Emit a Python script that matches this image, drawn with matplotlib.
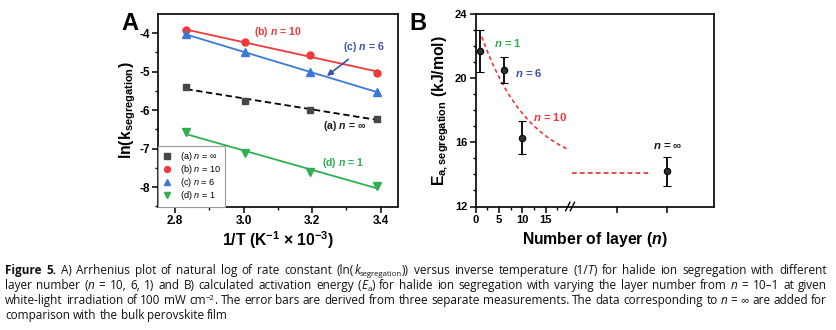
import re
import numpy as np
import matplotlib
matplotlib.use("Agg")
import matplotlib.pyplot as plt
from matplotlib.ticker import MultipleLocator, FixedLocator, FixedFormatter
import matplotlib.transforms as mtransforms

plt.rcParams['font.family'] = ['Liberation Sans', 'DejaVu Sans']
plt.rcParams['axes.unicode_minus'] = False
plt.rcParams['mathtext.fontset'] = 'custom'
plt.rcParams['mathtext.rm'] = 'Liberation Sans:bold'
plt.rcParams['mathtext.bf'] = 'Liberation Sans:bold'
plt.rcParams['mathtext.it'] = 'Liberation Sans:bold:italic'
plt.rcParams['mathtext.sf'] = 'Liberation Sans:italic'

# ---- Panel A: Arrhenius data (1/T in 10^-3 K^-1, ln k) ----
inv_T = [2.833, 3.003, 3.195, 3.390]
ln_k_inf = [-5.40, -5.76, -5.99, -6.22]
ln_k_n10 = [-3.92, -4.24, -4.57, -5.02]
ln_k_n6 = [-4.03, -4.50, -5.00, -5.53]
ln_k_n1 = [-6.56, -7.11, -7.60, -7.97]
series_labels = [r"(a) $\mathsf{n}$ = ∞", r"(b) $\mathsf{n}$ = 10",
                 r"(c) $\mathsf{n}$ = 6", r"(d) $\mathsf{n}$ = 1"]

# ---- Panel B: activation energy vs layer number ----
layers = [1, 6, 10]
ea_layers = [21.7, 20.5, 16.3]
ea_err = [1.3, 0.8, 1.0]
bulk_pos = 41
ea_bulk = 14.2
ea_bulk_err = 0.9
# guide-to-the-eye decay and bulk level
guide_base, guide_amp, guide_len = 14.1, 9.6, 10.5
guide_start, guide_end = 1.3, 19.5
bulk_line = (20.7, 37.5)

RED = '#ec3a3a'
BLUE_LINE = '#3c78d8'
BLUE_TXT = '#3b4fae'
GREEN = '#2faf4f'
GRAY = '#474747'

W, H = 836, 330
fig = plt.figure(figsize=(W / 100, H / 100), dpi=100)
fig.patch.set_facecolor('white')


def px_axes(x0, y0, x1, y1):
    return fig.add_axes([x0 / W, 1 - y1 / H, (x1 - x0) / W, (y1 - y0) / H])


def style_axes(ax, tick_size):
    for s in ax.spines.values():
        s.set_linewidth(1.2)
    ax.tick_params(which='major', direction='out', length=4, width=1.1,
                   labelsize=tick_size, top=False, right=False, pad=2)
    ax.tick_params(which='minor', direction='out', length=2.2, width=1.0,
                   top=False, right=False)
    for lab in ax.get_xticklabels() + ax.get_yticklabels():
        lab.set_fontweight('bold')


# ================= Panel A =================
axA = px_axes(158, 14, 397.7, 206.5)
xs = np.array(inv_T)
specs = [
    (ln_k_inf, 's', GRAY, 4.3, '--', 'k'),
    (ln_k_n10, 'o', RED, 5.0, '-', RED),
    (ln_k_n6, '^', BLUE_LINE, 5.3, '-', BLUE_LINE),
    (ln_k_n1, 'v', GREEN, 5.3, '-', GREEN),
]
for (ys, mk, mc, ms, ls, lc), lab in zip(specs, series_labels):
    ys = np.array(ys)
    slope, icpt = np.polyfit(xs, ys, 1)
    xf = np.array([xs[0], xs[-1]])
    line, = axA.plot(xf, slope * xf + icpt, ls, color=lc, lw=1.3, zorder=2)
    if ls == '--':
        line.set_dashes((3.5, 2))
    axA.plot(xs, ys, mk, color=mc, ms=ms, mec=mc, ls='none', label=lab, zorder=3)

axA.set_xlim(2.75, 3.45)
axA.set_ylim(-8.5, -3.5)
axA.xaxis.set_major_locator(FixedLocator([2.8, 3.0, 3.2, 3.4]))
axA.xaxis.set_minor_locator(FixedLocator([2.9, 3.1, 3.3]))
axA.yaxis.set_major_locator(FixedLocator([-8, -7, -6, -5, -4]))
axA.yaxis.set_minor_locator(FixedLocator([-8.5, -7.5, -6.5, -5.5, -4.5]))
axA.xaxis.set_major_formatter(FixedFormatter(['2.8', '3.0', '3.2', '3.4']))
axA.yaxis.set_major_formatter(FixedFormatter(['-8', '-7', '-6', '-5', '-4']))
style_axes(axA, 8.5)
axA.set_xlabel(r"1/T ($\mathrm{K}^{-1}$ × $\mathrm{10}^{-3}$)", fontsize=11.3,
               fontweight='bold', labelpad=1.5)
axA.set_ylabel(r"ln($\mathrm{k}_{\mathrm{segregation}}$)", fontsize=11.3,
               fontweight='bold', labelpad=1)

leg = axA.legend(loc='lower left', bbox_to_anchor=(0, 0), borderaxespad=0,
                 frameon=True, fancybox=False, edgecolor='#9a9a9a', framealpha=1,
                 fontsize=6.6, handlelength=1.0, handletextpad=0.9,
                 labelspacing=0.0, borderpad=0.45, markerscale=0.85)
leg.get_frame().set_linewidth(0.8)

axA.text(3.099, -3.97, r"(b) $\mathit{n}$ = 10", color=RED, fontsize=7.6,
         fontweight='bold', ha='center', va='center')
axA.annotate(r"(c) $\mathit{n}$ = 6", xy=(3.243, -5.11), xytext=(3.352, -4.36),
             color=BLUE_TXT, fontsize=7.6, fontweight='bold', ha='center', va='center',
             arrowprops=dict(arrowstyle='-|>,head_length=0.45,head_width=0.22',
                             color=BLUE_TXT, lw=1.2, shrinkA=3, shrinkB=0))
axA.text(3.296, -6.40, r"(a) $\mathit{n}$ = ∞", color='#1a1a1a', fontsize=7.6,
         fontweight='bold', ha='center', va='center')
axA.text(3.29, -7.38, r"(d) $\mathit{n}$ = 1", color=GREEN, fontsize=7.6,
         fontweight='bold', ha='center', va='center')

fig.text(130 / W, 1 - 30 / H, "A", fontsize=17, fontweight='bold', ha='center',
         va='baseline')

# ================= Panel B =================
axB = px_axes(475.7, 14, 714, 206.5)
xg = np.linspace(guide_start, guide_end, 120)
guide, = axB.plot(xg, guide_base + guide_amp * np.exp(-xg / guide_len),
                  color=RED, lw=1.2, zorder=1)
guide.set_dashes((2.4, 1.8))
bl, = axB.plot(bulk_line, [guide_base, guide_base], color=RED, lw=1.3, zorder=1)
bl.set_dashes((2.6, 1.8))

err_kw = dict(fmt='o', color='black', ms=4.6, mfc='#303030', mec='black', mew=0.8,
              ecolor='black', elinewidth=1.3, capsize=2.6, capthick=1.2, zorder=3)
axB.errorbar(layers, ea_layers, yerr=ea_err, **err_kw)
axB.errorbar([bulk_pos], [ea_bulk], yerr=[ea_bulk_err], **err_kw)

axB.set_xlim(0, 51)
axB.set_ylim(12, 24)
axB.xaxis.set_major_locator(FixedLocator([0, 5, 10, 15, 30.2, 41]))
axB.xaxis.set_major_formatter(FixedFormatter(['0', '5', '10', '15', '', '']))
axB.xaxis.set_minor_locator(FixedLocator([2.5, 7.5, 12.5, 17.5]))
axB.yaxis.set_major_locator(FixedLocator([12, 16, 20, 24]))
axB.yaxis.set_major_formatter(FixedFormatter(['12', '16', '20', '24']))
axB.yaxis.set_minor_locator(MultipleLocator(1))
style_axes(axB, 8)
axB.set_xlabel(r"Number of layer ($\mathit{n}$)", fontsize=11.3, fontweight='bold',
               labelpad=3.5)
axB.set_ylabel(r"$\mathrm{E}_{\mathrm{a,segregation}}$ (kJ/mol)", fontsize=11.3,
               fontweight='bold', labelpad=3)

# axis break marks on the bottom spine
brk = mtransforms.blended_transform_factory(axB.transData, axB.transAxes)
for xb in (19.7, 20.7):
    axB.plot([xb - 0.45, xb + 0.45], [-0.022, 0.022], color='black', lw=1.0,
             transform=brk, clip_on=False, zorder=5)

axB.text(6.9, 22.2, r"$\mathit{n}$ = 1", color=GREEN, fontsize=8.2, fontweight='bold',
         ha='center', va='center')
axB.text(11.4, 20.3, r"$\mathit{n}$ = 6", color=BLUE_TXT, fontsize=8.2,
         fontweight='bold', ha='center', va='center')
axB.text(15.9, 17.55, r"$\mathit{n}$ = 10", color=RED, fontsize=8.2,
         fontweight='bold', ha='center', va='center')
axB.text(41.2, 15.75, r"$\mathit{n}$ = ∞", color='#1a1a1a', fontsize=8.2,
         fontweight='bold', ha='center', va='center')

fig.text(418 / W, 1 - 30 / H, "B", fontsize=17, fontweight='bold', ha='center',
         va='baseline')

# ================= Caption (justified) =================
CAP_FAMILY = ['Open Sans', 'DejaVu Sans']
CAP_SIZE = 8.5
caption_lines = [
    "<b>Figure</b> <b>5.</b> A) Arrhenius plot of natural log of rate constant "
    "(ln(<i>k</i><sub>segregation</sub>)) versus inverse temperature (1/<i>T</i>) "
    "for halide ion segregation with different",
    "layer number (<i>n</i> = 10, 6, 1) and B) calculated activation energy "
    "(<i>E</i><sub>a</sub>) for halide ion segregation with varying the layer number "
    "from <i>n</i> = 10–1 at given",
    "white-light irradiation of 100 mW cm<sup>−2</sup>. The error bars are derived from "
    "three separate measurements. The data corresponding to <i>n</i> = ∞ are added for",
    "comparison with the bulk perovskite film",
]
caption_justify = [True, True, True, False]
caption_baselines = [274, 289, 304, 319]
cap_x0, cap_x1 = 5, 827

run_style = {
    'r': (dict(), 1.0, 0.0),
    'b': (dict(fontweight='bold'), 1.0, 0.0),
    'i': (dict(fontstyle='italic'), 1.0, 0.0),
    'sub': (dict(), 0.66, -2.4),
    'sup': (dict(), 0.66, 3.8),
}

renderer = fig.canvas.get_renderer()


def parse_word(word):
    runs = []
    for m in re.finditer(r'<(i|b|sub|sup)>(.*?)</\1>|([^<]+)', word):
        if m.group(3):
            runs.append((m.group(3), 'r'))
        else:
            runs.append((m.group(2), m.group(1)))
    return runs


probe = fig.text(0, 0, "a a", fontsize=CAP_SIZE, family=CAP_FAMILY)
probe2 = fig.text(0, 0, "aa", fontsize=CAP_SIZE, family=CAP_FAMILY)
space_w = (probe.get_window_extent(renderer).width
           - probe2.get_window_extent(renderer).width)
probe.remove()
probe2.remove()

for line, justify, base in zip(caption_lines, caption_justify, caption_baselines):
    words = []
    for word in line.split(' '):
        items = []
        for txt, kind in parse_word(word):
            props, scale, dy = run_style[kind]
            t = fig.text(0, 0, txt, fontsize=CAP_SIZE * scale, family=CAP_FAMILY,
                         ha='left', va='baseline', color='#111111', **props)
            w = t.get_window_extent(renderer).width
            items.append((t, w, dy))
        words.append(items)
    widths = [sum(w for _, w, _ in items) for items in words]
    if justify and len(words) > 1:
        gap = (cap_x1 - cap_x0 - sum(widths)) / (len(words) - 1)
    else:
        gap = space_w
    x = cap_x0
    for items, ww in zip(words, widths):
        xx = x
        for t, w, dy in items:
            t.set_position((xx / W, 1 - (base - dy) / H))
            xx += w
        x += ww + gap

fig.savefig("out.png", dpi=100, facecolor='white')
